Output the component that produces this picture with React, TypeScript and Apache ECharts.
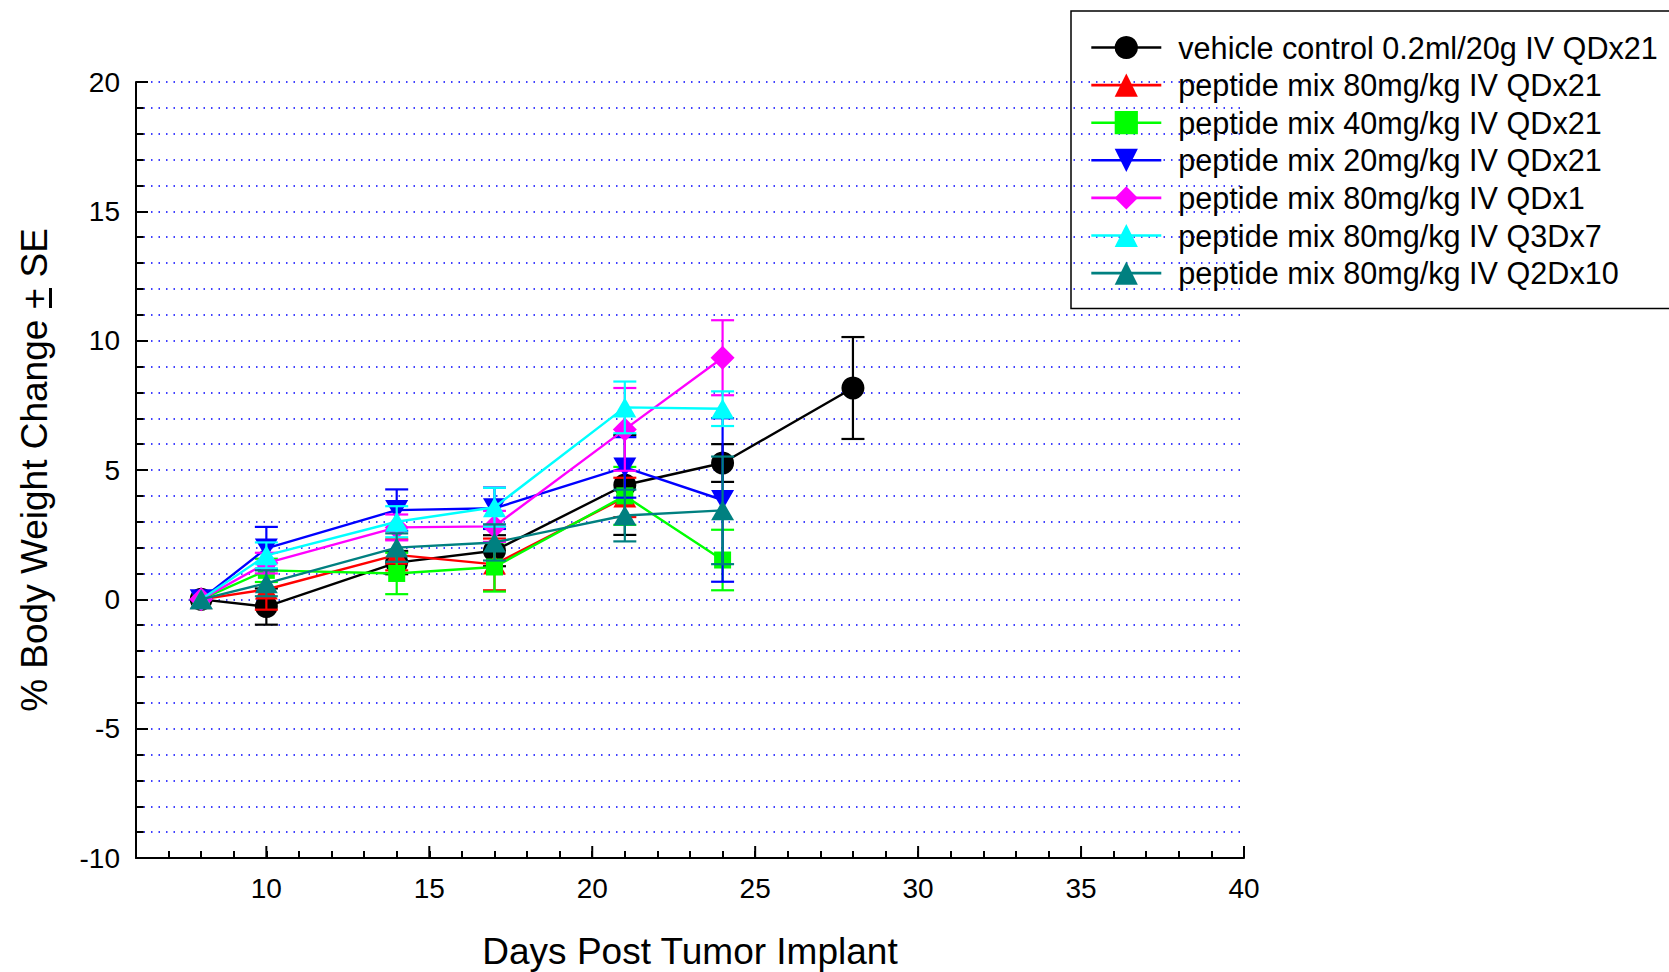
import React, { useEffect, useRef } from "react";
import * as echarts from "echarts";

const FONT = "'Liberation Sans', Arial, Helvetica, sans-serif";

const seriesNames = [
  "vehicle control 0.2ml/20g IV QDx21",
  "peptide mix 80mg/kg IV QDx21",
  "peptide mix 40mg/kg IV QDx21",
  "peptide mix 20mg/kg IV QDx21",
  "peptide mix 80mg/kg IV QDx1",
  "peptide mix 80mg/kg IV Q3Dx7",
  "peptide mix 80mg/kg IV Q2Dx10",
];

const daysVehicle = [8, 10, 14, 17, 21, 24, 28];
const daysRed = [8, 10, 14, 17, 21];
const daysOther = [8, 10, 14, 17, 21, 24];

const vehicleMean = [0, -0.28, 1.42, 1.88, 4.42, 5.27, 8.17];
const vehicleSE = [0, 0.7, 0.45, 0.6, 1.93, 0.73, 1.97];

const p80qd21Mean = [0, 0.38, 1.72, 1.35, 3.94];
const p80qd21SE = [0, 0.78, 0.6, 1.0, 0.76];

const p40qd21Mean = [0, 1.12, 1.0, 1.25, 4.0, 1.52];
const p40qd21SE = [0, 0.45, 0.8, 0.95, 1.12, 1.17];

const p20qd21Mean = [0, 1.97, 3.45, 3.52, 5.1, 3.84];
const p20qd21SE = [0, 0.83, 0.8, 0.8, 1.17, 3.16];

const p80qd1Mean = [0, 1.4, 2.78, 2.82, 6.57, 9.34];
const p80qd1SE = [0, 0.4, 0.5, 0.6, 1.6, 1.45];

const p80q3d7Mean = [0, 1.7, 3.0, 3.56, 7.42, 7.37];
const p80q3d7SE = [0, 0.5, 0.6, 0.75, 1.0, 0.67];

const p80q2d10Mean = [0, 0.62, 2.0, 2.2, 3.24, 3.44];
const p80q2d10SE = [0, 0.5, 0.55, 0.7, 1.0, 2.08];

const xMajorTicks = [10, 15, 20, 25, 30, 35, 40];
const yMin = -10;
const yMax = 20;

const groups = [
  { name: seriesNames[0], days: daysVehicle, mean: vehicleMean, se: vehicleSE, color: "#000000", symbol: "circle", size: 23, rotate: 0 },
  { name: seriesNames[1], days: daysRed, mean: p80qd21Mean, se: p80qd21SE, color: "#ff0000", symbol: "triangle", size: [23, 20], rotate: 0 },
  { name: seriesNames[2], days: daysOther, mean: p40qd21Mean, se: p40qd21SE, color: "#00ff00", symbol: "rect", size: 17, rotate: 0 },
  { name: seriesNames[3], days: daysOther, mean: p20qd21Mean, se: p20qd21SE, color: "#0000ff", symbol: "triangle", size: [23, 20], rotate: 180 },
  { name: seriesNames[4], days: daysOther, mean: p80qd1Mean, se: p80qd1SE, color: "#ff00ff", symbol: "diamond", size: [24, 24], rotate: 0 },
  { name: seriesNames[5], days: daysOther, mean: p80q3d7Mean, se: p80q3d7SE, color: "#00ffff", symbol: "triangle", size: [23, 20], rotate: 0 },
  { name: seriesNames[6], days: daysOther, mean: p80q2d10Mean, se: p80q2d10SE, color: "#008080", symbol: "triangle", size: [23, 20], rotate: 0 },
];

export default function App() {
  const ref = useRef<HTMLDivElement>(null);

  useEffect(() => {
    if (!ref.current) return;
    const chart = echarts.init(ref.current, null, { renderer: "svg" });

    const series: any[] = [];

    // major ticks on the x axis (longer than the per-day ticks)
    series.push({
      type: "custom",
      name: "xMajorTicks",
      z: 1,
      clip: false,
      silent: true,
      encode: { x: 0 },
      data: xMajorTicks.map((v) => [v]),
      renderItem: (params: any, api: any) => {
        const p = api.coord([api.value(0), yMin]);
        return {
          type: "line",
          shape: { x1: p[0], y1: p[1], x2: p[0], y2: p[1] - 12 },
          style: { stroke: "#000000", lineWidth: 2 },
        };
      },
    });

    groups.forEach((g, i) => {
      series.push({
        type: "custom",
        name: g.name + " SE",
        z: 2 + i * 2,
        clip: false,
        silent: true,
        encode: { x: 0, y: 1 },
        data: g.days.map((d, k) => [d, g.mean[k], g.se[k]]),
        renderItem: (params: any, api: any) => {
          const x = api.value(0);
          const y = api.value(1);
          const s = api.value(2);
          if (!(s > 0)) return { type: "group", children: [] };
          const top = api.coord([x, y + s]);
          const bot = api.coord([x, y - s]);
          const hw = 11.5;
          const style = { stroke: g.color, lineWidth: 2.2 };
          return {
            type: "group",
            children: [
              { type: "line", shape: { x1: top[0], y1: top[1], x2: bot[0], y2: bot[1] }, style },
              { type: "line", shape: { x1: top[0] - hw, y1: top[1], x2: top[0] + hw, y2: top[1] }, style },
              { type: "line", shape: { x1: bot[0] - hw, y1: bot[1], x2: bot[0] + hw, y2: bot[1] }, style },
            ],
          };
        },
      });
      series.push({
        type: "line",
        name: g.name,
        z: 3 + i * 2,
        data: g.days.map((d, k) => [d, g.mean[k]]),
        symbol: g.symbol,
        symbolSize: g.size,
        symbolRotate: g.rotate,
        showAllSymbol: true,
        lineStyle: { color: g.color, width: 2.4 },
        itemStyle: { color: g.color, borderWidth: 0 },
        emphasis: { disabled: true },
      });
    });

    const dotted = { color: "#0000ff", width: 1.5, type: [1.5, 6] };

    chart.setOption({
      animation: false,
      backgroundColor: "#ffffff",
      textStyle: { fontFamily: FONT },
      grid: { left: 136, right: 425, top: 82, bottom: 114, containLabel: false, outerBoundsMode: "none" },
      legend: {
        data: groups.map((g) => g.name),
        orient: "vertical",
        left: 1071,
        top: 11,
        padding: [21, 40, 20, 19],
        itemGap: 6.6,
        itemWidth: 70,
        itemHeight: 29,
        borderColor: "#000000",
        borderWidth: 1.5,
        selectedMode: false,
        lineStyle: { width: 2.6 },
        textStyle: { fontSize: 30.6, color: "#000000", fontFamily: FONT, padding: [0, 0, 0, 12] },
      },
      xAxis: {
        type: "value",
        min: 6,
        max: 40,
        interval: 1,
        axisLine: { show: true, onZero: false, lineStyle: { color: "#000000", width: 2 } },
        axisTick: { show: true, inside: true, length: 7, lineStyle: { color: "#000000", width: 2 } },
        axisLabel: { show: true, customValues: xMajorTicks, fontSize: 28, color: "#000000", margin: 16, fontFamily: FONT },
        splitLine: { show: false },
        name: "Days Post Tumor Implant",
        nameLocation: "middle",
        nameGap: 75,
        nameTextStyle: { fontSize: 37, color: "#000000", fontFamily: FONT },
      },
      yAxis: {
        type: "value",
        min: yMin,
        max: yMax,
        interval: 5,
        axisLine: { show: true, onZero: false, lineStyle: { color: "#000000", width: 2 } },
        axisTick: { show: true, inside: true, length: 12, lineStyle: { color: "#000000", width: 2 } },
        minorTick: { show: true, splitNumber: 5, length: 7.7, lineStyle: { color: "#000000", width: 2 } },
        splitLine: { show: true, lineStyle: dotted },
        minorSplitLine: { show: true, lineStyle: dotted },
        axisLabel: { fontSize: 28, color: "#000000", margin: 16, fontFamily: FONT },
        name: "% Body Weight Change + SE",
        nameLocation: "middle",
        nameGap: 83,
        nameRotate: 90,
        nameTextStyle: { fontSize: 37, color: "#000000", fontFamily: FONT },
      },
      graphic: [
        { type: "rect", shape: { x: 49, y: 288, width: 3, height: 20 }, style: { fill: "#000000" }, z: 100 },
      ],
      series,
    });

    return () => chart.dispose();
  }, []);

  return (
    <div
      ref={ref}
      style={{ position: "fixed", left: 0, top: 0, width: 1669, height: 972, background: "#fff" }}
    />
  );
}
